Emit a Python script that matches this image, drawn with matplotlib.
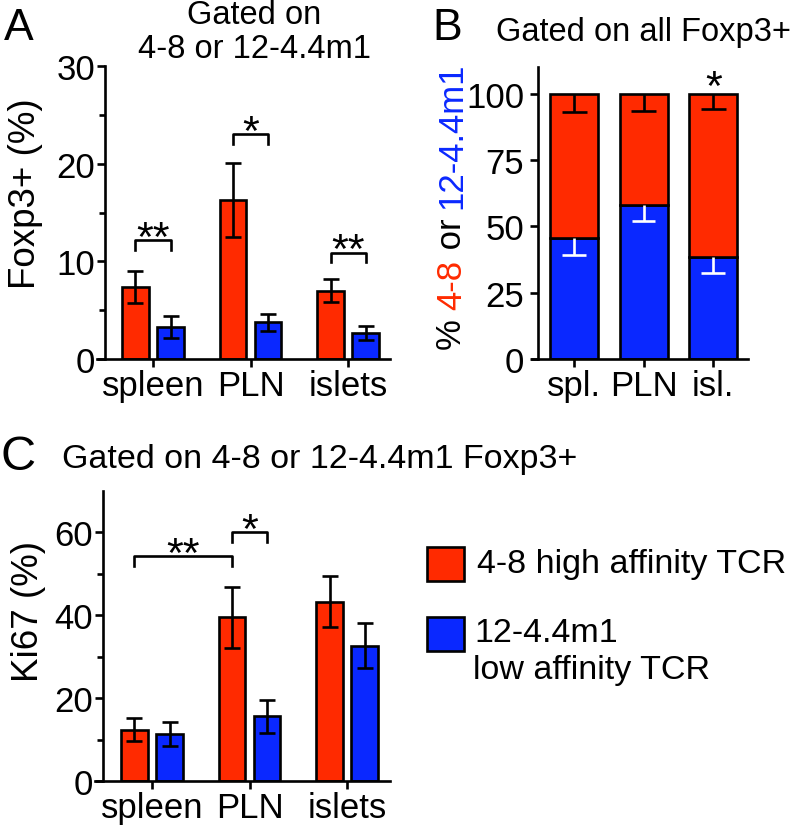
import numpy as np
import matplotlib
matplotlib.use('Agg')
import matplotlib.pyplot as plt
from matplotlib.patches import Rectangle

plt.rcParams['font.family'] = ['Liberation Sans', 'DejaVu Sans']

RED = '#ff2a00'
BLUE = '#0a28ff'
LW = 1.9

# panel A: % Foxp3+ among 4-8 or 12-4.4m1 cells
tissues = ['spleen', 'PLN', 'islets']
foxp3_48 = [7.4, 16.3, 7.0]
foxp3_48_err = [1.65, 3.8, 1.15]
foxp3_12 = [3.3, 3.75, 2.65]
foxp3_12_err = [1.15, 0.85, 0.72]
# (group a, series a, group b, series b, level, label)  series 0 = 4-8, 1 = 12-4.4m1
sig_A = [(0, 0, 0, 1, 12.2, '**'), (1, 0, 1, 1, 23.0, '*'), (2, 0, 2, 1, 10.9, '**')]

# panel B: share of all Foxp3+
tissues_short = ['spl.', 'PLN', 'isl.']
frac_12 = [45.5, 58.0, 38.3]
frac_12_err = [6.5, 6.2, 5.8]
frac_48_err = [7.0, 6.4, 5.7]
star_B = [(2, 102.0, '*')]

# panel C: Ki67 among Foxp3+
ki67_48 = [12.4, 39.5, 43.3]
ki67_48_err = [2.7, 7.3, 6.1]
ki67_12 = [11.3, 15.6, 32.7]
ki67_12_err = [2.9, 4.0, 5.5]
sig_C = [(0, 0, 1, 0, 54.3, '**'), (1, 0, 1, 1, 60.1, '*')]

W, H = 800, 828
fig = plt.figure(figsize=(W / 100, H / 100), dpi=100)


def px_axes(left, right, top, bottom):
    return fig.add_axes([left / W, 1 - bottom / H, (right - left) / W, (bottom - top) / H])


def style(ax, xlo, xhi, ymax, spine_frac):
    ax.set_xlim(xlo, xhi)
    ax.set_ylim(0, ymax)
    ax.spines['top'].set_visible(False)
    ax.spines['right'].set_visible(False)
    ax.spines['left'].set_position(('axes', spine_frac))
    ax.spines['left'].set_linewidth(LW)
    ax.spines['bottom'].set_linewidth(LW)
    ax.tick_params(width=LW, length=6, labelsize=25, pad=1)
    ax.tick_params(which='minor', width=LW, length=4)
    ax.patch.set_alpha(0)


def ftext(x, y, s, **kw):
    return fig.text(x / W, 1 - y / H, s, **kw)


off = 0.18
bw = 0.27
x = np.arange(3)


def paired_bars(ax, v48, e48, v12, e12):
    ax.bar(x - off, v48, bw, color=RED, edgecolor='black', linewidth=LW, zorder=2)
    ax.bar(x + off, v12, bw, color=BLUE, edgecolor='black', linewidth=LW, zorder=2)
    ax.errorbar(x - off, v48, yerr=e48, fmt='none', ecolor='black', elinewidth=LW,
                capsize=6, capthick=LW, zorder=3)
    ax.errorbar(x + off, v12, yerr=e12, fmt='none', ecolor='black', elinewidth=LW,
                capsize=6, capthick=LW, zorder=3)


def brackets(ax, sigs, drop):
    for ga, sa, gb, sb, lev, lab in sigs:
        xa = ga + (off if sa else -off)
        xb = gb + (off if sb else -off)
        ax.plot([xa, xa, xb, xb], [lev - drop, lev, lev, lev - drop], color='black',
                lw=LW, clip_on=False, zorder=3)
        ax.annotate(lab, xy=((xa + xb) / 2, lev), xytext=(0, -7), textcoords='offset points',
                    ha='center', va='baseline', fontsize=31, annotation_clip=False)


# ---- A
axA = px_axes(97, 390, 67, 360)
style(axA, -0.574, 2.43, 30, 0.027)
paired_bars(axA, foxp3_48, foxp3_48_err, foxp3_12, foxp3_12_err)
brackets(axA, sig_A, 1.0)
axA.set_yticks([0, 10, 20, 30])
axA.set_yticks([5, 15, 25], minor=True)
axA.set_xticks(x)
axA.set_xticklabels(tissues)
ftext(26, 194, 'Foxp3+ (%)', rotation=90, ha='center', va='center', fontsize=26.5)
ftext(254, 15, 'Gated on', ha='center', va='center', fontsize=23.5)
ftext(254, 50, '4-8 or 12-4.4m1', ha='center', va='center', fontsize=23.5)
ftext(19, 40, 'A', ha='center', va='baseline', fontsize=32)

# ---- B
axB = px_axes(532, 748, 68, 360)
style(axB, -0.604, 2.50, 110, 0.028)
frac_48 = [100 - v for v in frac_12]
axB.bar(x, frac_12, 0.69, color=BLUE, edgecolor='black', linewidth=LW, zorder=2)
axB.bar(x, frac_48, 0.69, bottom=frac_12, color=RED, edgecolor='black', linewidth=LW, zorder=2)
tops = [a + b for a, b in zip(frac_12, frac_48)]
axB.vlines(x, np.array(tops) - np.array(frac_48_err), tops, color='black', lw=LW, zorder=3)
axB.hlines(np.array(tops) - np.array(frac_48_err), x - 0.18, x + 0.18, color='black', lw=LW, zorder=3)
axB.vlines(x, np.array(frac_12) - np.array(frac_12_err), frac_12, color='white', lw=LW, zorder=3)
axB.hlines(np.array(frac_12) - np.array(frac_12_err), x - 0.17, x + 0.17, color='white', lw=LW, zorder=3)
for g, lev, lab in star_B:
    axB.annotate(lab, xy=(g, lev), xytext=(0, -8), textcoords='offset points',
                 ha='center', va='baseline', fontsize=31, annotation_clip=False)
axB.set_yticks([0, 25, 50, 75, 100])
axB.set_xticks(x)
axB.set_xticklabels(tissues_short)
axB.tick_params(axis='y', pad=4)
ftext(643, 32, 'Gated on all Foxp3+', ha='center', va='center', fontsize=23.5)
ftext(447, 40, 'B', ha='center', va='baseline', fontsize=32)

# multi-coloured y label of B, stacked bottom to top
renderer = fig.canvas.get_renderer()
ypos = 350
for piece, col in [('% ', 'black'), ('4-8', RED), (' or ', 'black'), ('12-4.4m1', BLUE)]:
    t = ftext(452, ypos, piece, rotation=90, ha='center', va='bottom', fontsize=25, color=col)
    bb = t.get_window_extent(renderer)
    ypos = H - bb.y1

# ---- C
axC = px_axes(95, 390, 492, 782)
style(axC, -0.585, 2.44, 70, 0.027)
paired_bars(axC, ki67_48, ki67_48_err, ki67_12, ki67_12_err)
brackets(axC, sig_C, 2.4)
axC.set_yticks([0, 20, 40, 60])
axC.set_yticks([10, 30, 50], minor=True)
axC.set_xticks(x)
axC.set_xticklabels(tissues)
ftext(28, 612, 'Ki67 (%)', rotation=90, ha='center', va='center', fontsize=26.5)
ftext(62, 460, 'Gated on 4-8 or 12-4.4m1 Foxp3+', ha='left', va='center', fontsize=24.5)
ftext(18, 470, 'C', ha='center', va='baseline', fontsize=35)

# legend
fig.add_artist(Rectangle((427 / W, 1 - 582 / H), 37 / W, 34 / H, transform=fig.transFigure,
                         facecolor=RED, edgecolor='black', lw=LW))
fig.add_artist(Rectangle((427 / W, 1 - 652 / H), 37 / W, 34 / H, transform=fig.transFigure,
                         facecolor=BLUE, edgecolor='black', lw=LW))
ftext(477, 564, '4-8 high affinity TCR', ha='left', va='center', fontsize=24.5)
ftext(474, 634, '12-4.4m1', ha='left', va='center', fontsize=24.5)
ftext(473, 671, 'low affinity TCR', ha='left', va='center', fontsize=24.5)

fig.savefig('out.png', dpi=100)
